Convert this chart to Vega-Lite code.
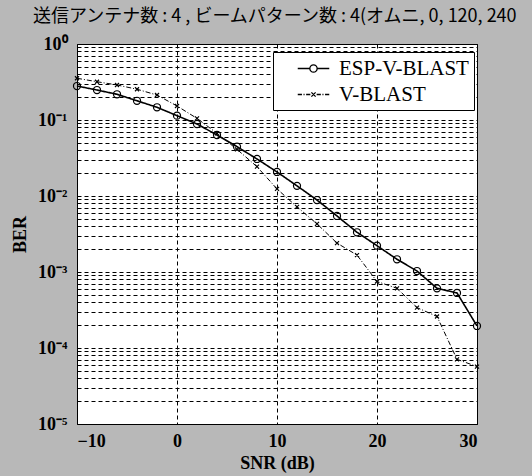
{
  "$schema": "https://vega.github.io/schema/vega-lite/v6.json",
  "width": 400,
  "height": 380,
  "autosize": {"type": "none"},
  "padding": {"left": 77, "top": 44, "right": 55, "bottom": 52},
  "background": "#b8b8b8",
  "title": {
    "text": "送信アンテナ数 : 4 , ビームパターン数 : 4(オムニ,  0, 120, 240",
    "anchor": "start",
    "frame": "group",
    "dx": -44,
    "offset": 9,
    "font": "Noto Sans CJK JP",
    "fontSize": 18,
    "fontWeight": "normal",
    "color": "black"
  },
  "config": {
    "view": {"stroke": "black", "strokeWidth": 1, "fill": "white"},
    "axis": {
      "labelFont": "Liberation Serif",
      "labelFontWeight": "bold",
      "labelFontSize": 18,
      "labelColor": "black",
      "titleFont": "Liberation Serif",
      "titleFontWeight": "bold",
      "titleFontSize": 18,
      "titleColor": "black",
      "domain": false,
      "ticks": false,
      "gridColor": "black",
      "gridOpacity": 1,
      "gridWidth": 1,
      "gridDash": [4, 3],
      "labelOverlap": false,
      "labelBound": false
    }
  },
  "data": {
    "values": [
      {"snr": -10, "ber": 0.28, "series": "ESP-V-BLAST"},
      {"snr": -8, "ber": 0.248, "series": "ESP-V-BLAST"},
      {"snr": -6, "ber": 0.218, "series": "ESP-V-BLAST"},
      {"snr": -4, "ber": 0.179, "series": "ESP-V-BLAST"},
      {"snr": -2, "ber": 0.147, "series": "ESP-V-BLAST"},
      {"snr": 0, "ber": 0.114, "series": "ESP-V-BLAST"},
      {"snr": 2, "ber": 0.0886, "series": "ESP-V-BLAST"},
      {"snr": 4, "ber": 0.0635, "series": "ESP-V-BLAST"},
      {"snr": 6, "ber": 0.0446, "series": "ESP-V-BLAST"},
      {"snr": 8, "ber": 0.0307, "series": "ESP-V-BLAST"},
      {"snr": 10, "ber": 0.0207, "series": "ESP-V-BLAST"},
      {"snr": 12, "ber": 0.0136, "series": "ESP-V-BLAST"},
      {"snr": 14, "ber": 0.00885, "series": "ESP-V-BLAST"},
      {"snr": 16, "ber": 0.00546, "series": "ESP-V-BLAST"},
      {"snr": 18, "ber": 0.00333, "series": "ESP-V-BLAST"},
      {"snr": 20, "ber": 0.00222, "series": "ESP-V-BLAST"},
      {"snr": 22, "ber": 0.00147, "series": "ESP-V-BLAST"},
      {"snr": 24, "ber": 0.00103, "series": "ESP-V-BLAST"},
      {"snr": 26, "ber": 0.00061, "series": "ESP-V-BLAST"},
      {"snr": 28, "ber": 0.00053, "series": "ESP-V-BLAST"},
      {"snr": 30, "ber": 0.000195, "series": "ESP-V-BLAST"},
      {"snr": -10, "ber": 0.354, "series": "V-BLAST"},
      {"snr": -8, "ber": 0.319, "series": "V-BLAST"},
      {"snr": -6, "ber": 0.289, "series": "V-BLAST"},
      {"snr": -4, "ber": 0.254, "series": "V-BLAST"},
      {"snr": -2, "ber": 0.213, "series": "V-BLAST"},
      {"snr": 0, "ber": 0.153, "series": "V-BLAST"},
      {"snr": 2, "ber": 0.105, "series": "V-BLAST"},
      {"snr": 4, "ber": 0.0668, "series": "V-BLAST"},
      {"snr": 6, "ber": 0.0411, "series": "V-BLAST"},
      {"snr": 8, "ber": 0.0243, "series": "V-BLAST"},
      {"snr": 10, "ber": 0.0124, "series": "V-BLAST"},
      {"snr": 12, "ber": 0.0072, "series": "V-BLAST"},
      {"snr": 14, "ber": 0.0043, "series": "V-BLAST"},
      {"snr": 16, "ber": 0.0024, "series": "V-BLAST"},
      {"snr": 18, "ber": 0.00167, "series": "V-BLAST"},
      {"snr": 20, "ber": 0.00075, "series": "V-BLAST"},
      {"snr": 22, "ber": 0.00061, "series": "V-BLAST"},
      {"snr": 24, "ber": 0.00034, "series": "V-BLAST"},
      {"snr": 26, "ber": 0.00026, "series": "V-BLAST"},
      {"snr": 28, "ber": 0.000071, "series": "V-BLAST"},
      {"snr": 30, "ber": 0.000057, "series": "V-BLAST"}
    ]
  },
  "encoding": {
    "x": {
      "field": "snr",
      "type": "quantitative",
      "title": "SNR (dB)",
      "scale": {"domain": [-10, 30], "nice": false, "zero": false},
      "axis": {"values": [-10, 0, 10, 20, 30], "labelPadding": 8, "titlePadding": 4}
    },
    "y": {
      "field": "ber",
      "type": "quantitative",
      "title": "BER",
      "scale": {"type": "log", "domain": [0.00001, 1], "nice": false},
      "axis": {
        "values": [0.00001, 0.00002, 0.00003, 0.00004, 0.00005, 0.00006, 0.00007, 0.00008, 0.00009,
                   0.0001, 0.0002, 0.0003, 0.0004, 0.0005, 0.0006, 0.0007, 0.0008, 0.0009,
                   0.001, 0.002, 0.003, 0.004, 0.005, 0.006, 0.007, 0.008, 0.009,
                   0.01, 0.02, 0.03, 0.04, 0.05, 0.06, 0.07, 0.08, 0.09,
                   0.1, 0.2, 0.3, 0.4, 0.5, 0.6, 0.7, 0.8, 0.9, 1],
        "labelExpr": "abs(log(datum.value)/LN10 - round(log(datum.value)/LN10)) < 0.001 ? (datum.value >= 0.5 ? '10⁰' : datum.value >= 0.05 ? '10⁻¹' : datum.value >= 0.005 ? '10⁻²' : datum.value >= 0.0005 ? '10⁻³' : datum.value >= 0.00005 ? '10⁻⁴' : '10⁻⁵') : ''",
        "labelPadding": 10,
        "titlePadding": 8
      }
    }
  },
  "layer": [
    {
      "mark": {"type": "line", "color": "black"},
      "encoding": {
        "strokeDash": {
          "field": "series", "type": "nominal",
          "scale": {"domain": ["ESP-V-BLAST", "V-BLAST"], "range": [[1, 0], [5, 2, 1, 2]]},
          "legend": null
        },
        "strokeWidth": {
          "field": "series", "type": "nominal",
          "scale": {"domain": ["ESP-V-BLAST", "V-BLAST"], "range": [1.6, 1]},
          "legend": null
        }
      }
    },
    {
      "mark": {"type": "point", "filled": false, "color": "black", "strokeWidth": 1.2, "opacity": 1},
      "encoding": {
        "shape": {
          "field": "series", "type": "nominal",
          "scale": {"domain": ["ESP-V-BLAST", "V-BLAST"], "range": ["circle", "M-0.8,-0.8L0.8,0.8M-0.8,0.8L0.8,-0.8"]},
          "legend": null
        },
        "size": {
          "field": "series", "type": "nominal",
          "scale": {"domain": ["ESP-V-BLAST", "V-BLAST"], "range": [50, 25]},
          "legend": null
        }
      }
    },
    {
      "mark": {"type": "point", "filled": false, "color": "black", "opacity": 0},
      "encoding": {
        "shape": {
          "field": "series", "type": "nominal",
          "scale": {"domain": ["ESP-V-BLAST", "V-BLAST"], "range": [
            "M-1.5,0H-0.35M0.35,0H1.5M0.35,0A0.35,0.35,0,1,1,-0.35,0A0.35,0.35,0,1,1,0.35,0",
            "M-1.5,0H-1.1M-0.95,0H-0.85M-0.7,0H-0.3M-0.2,-0.2L0.2,0.2M-0.2,0.2L0.2,-0.2M0.3,0H0.7M0.85,0H0.95M1.1,0H1.5"
          ]},
          "legend": {
            "title": null,
            "orient": "none",
            "legendX": 196,
            "legendY": 8,
            "fillColor": "white",
            "strokeColor": "black",
            "padding": 5,
            "symbolSize": 441,
            "symbolStrokeWidth": 1.3,
            "symbolStrokeColor": "black",
            "symbolFillColor": "transparent",
            "symbolOpacity": 1,
            "symbolOffset": 24,
            "labelOffset": 14,
            "rowPadding": 4,
            "labelFont": "Liberation Serif",
            "labelFontSize": 21,
            "labelFontWeight": "normal",
            "labelColor": "black",
            "labelLimit": 300
          }
        }
      }
    }
  ],
  "resolve": {"scale": {"shape": "independent"}}
}
